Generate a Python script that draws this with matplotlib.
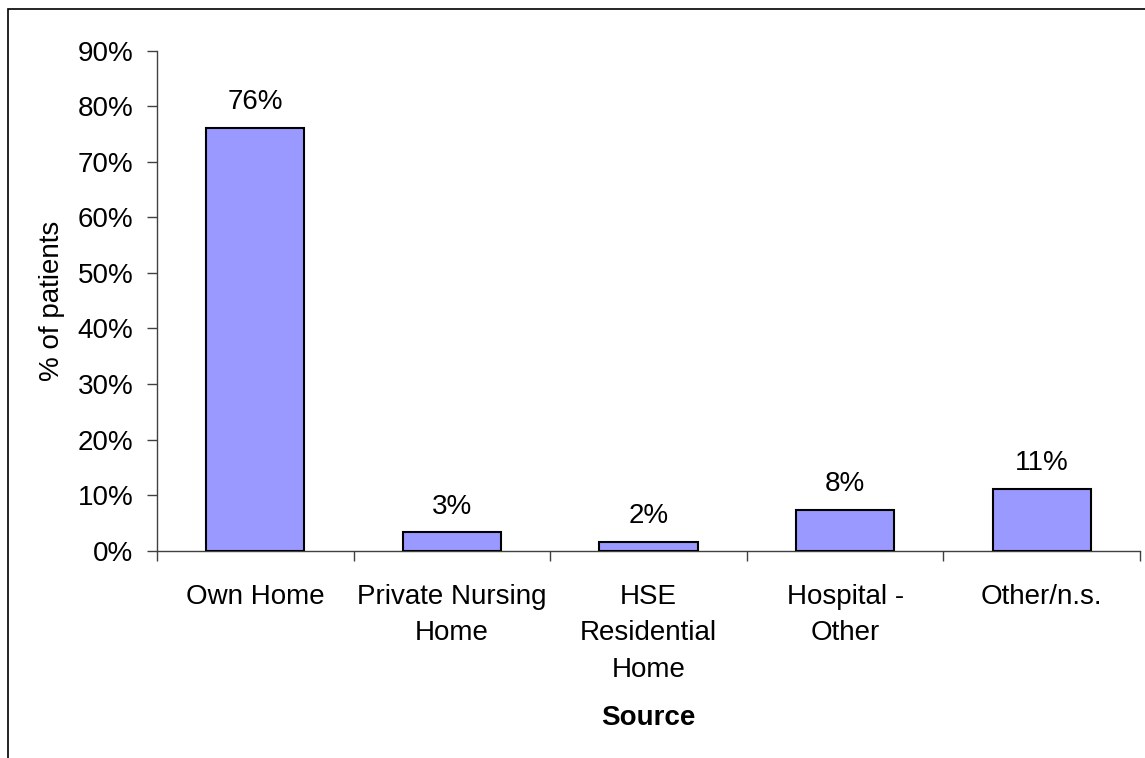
import matplotlib

matplotlib.use("Agg")
import matplotlib.pyplot as plt
from matplotlib.patches import Rectangle
from matplotlib.ticker import FixedLocator, PercentFormatter

plt.rcParams["font.family"] = ["Liberation Sans", "DejaVu Sans"]

# Data
categories = ["Own Home", "Private Nursing\nHome", "HSE\nResidential\nHome",
              "Hospital -\nOther", "Other/n.s."]
shares = [76.1, 3.3, 1.6, 7.4, 11.1]
value_labels = ["76%", "3%", "2%", "8%", "11%"]

BAR_COLOR = "#9999FF"
FS = 20

fig = plt.figure(figsize=(11.45, 7.58), dpi=100)
ax = fig.add_axes([0.1371, 0.2735, 0.9956 - 0.1371, 0.9331 - 0.2735])

xs = list(range(len(categories)))
ax.bar(xs, shares, width=0.5, color=BAR_COLOR, edgecolor="black", linewidth=1.5, zorder=3)

for x, v, lab in zip(xs, shares, value_labels):
    ax.annotate(lab, (x, v), xytext=(0, 13.5), textcoords="offset points",
                ha="center", va="baseline", fontsize=FS)

ax.set_xlim(-0.5, len(categories) - 0.5)
ax.set_ylim(0, 90)
ax.yaxis.set_major_locator(FixedLocator(range(0, 91, 10)))
ax.yaxis.set_major_formatter(PercentFormatter(decimals=0))

# category boundaries get tick marks, centers get the labels
ax.xaxis.set_major_locator(FixedLocator([i - 0.5 for i in range(len(categories) + 1)]))
ax.xaxis.set_major_formatter(plt.NullFormatter())
ax.set_xticks(xs, minor=True)
ax.set_xticklabels(categories, minor=True, fontsize=FS, linespacing=1.52)
ax.tick_params(axis="x", which="minor", length=0, pad=24)
ax.tick_params(axis="x", which="major", length=7, width=1, color="#404040")
ax.tick_params(axis="y", length=7, width=1, color="#404040", pad=10, labelsize=FS)

for side in ("top", "right"):
    ax.spines[side].set_visible(False)
for side in ("left", "bottom"):
    ax.spines[side].set_color("#404040")
    ax.spines[side].set_linewidth(1)

ax.set_ylabel("% of patients", fontsize=FS, labelpad=9)
ax.set_xlabel("Source", fontsize=FS, fontweight="bold", labelpad=16)

# chart-area frame (only left/top edges fall inside the image)
fig.patches.append(Rectangle((8 / 1145, -0.1), 1.2, 0.988 + 0.1,
                             transform=fig.transFigure, fill=False,
                             edgecolor="black", linewidth=1.2))

fig.savefig("out.png", dpi=100)
